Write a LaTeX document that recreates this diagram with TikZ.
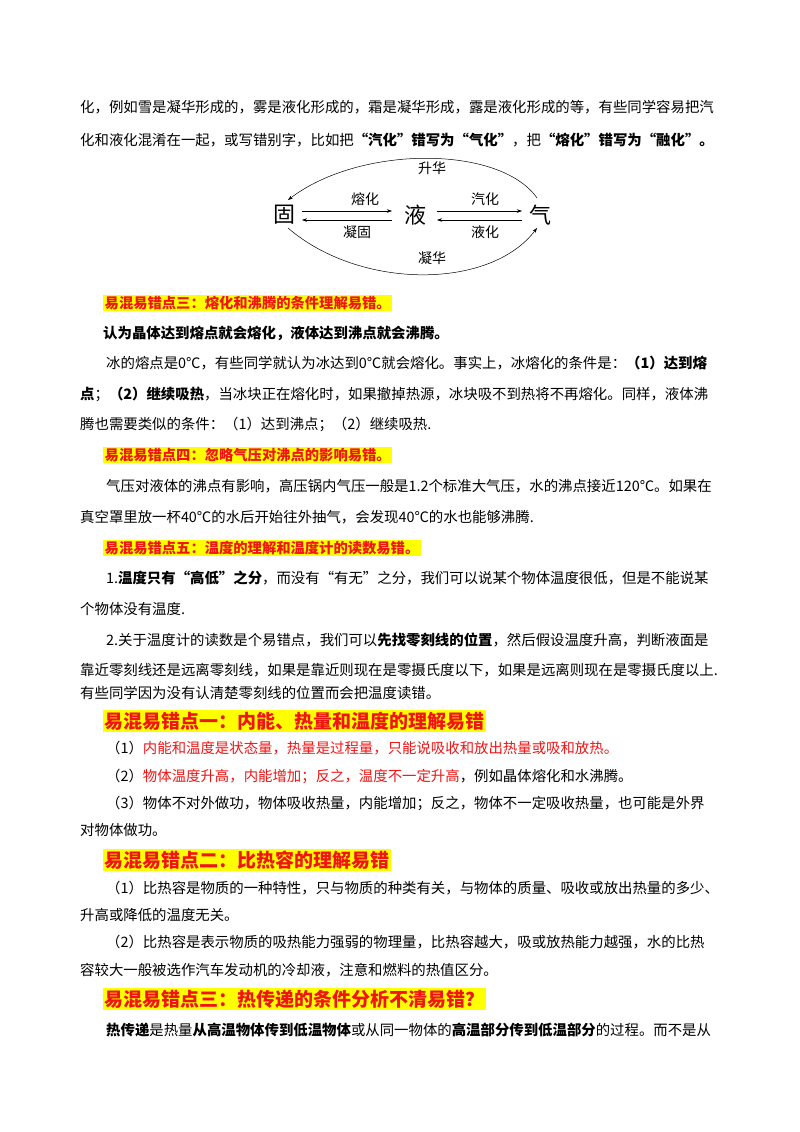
\documentclass[tikz,border=0pt]{standalone}
\usepackage{fontspec}
\setmainfont{Noto Sans CJK SC}
\usetikzlibrary{arrows.meta}
\definecolor{hl}{RGB}{255,255,0}
\definecolor{rd}{RGB}{240,20,20}
\newcommand{\B}[1]{\textbf{#1}}
\newcommand{\R}[1]{\textcolor{rd}{#1}}
\begin{document}
\begin{tikzpicture}[x=1pt,y=-1pt,
  ln/.style={anchor=west,inner sep=0pt,font=\fontsize{14.4}{16}\selectfont},
  hs/.style={anchor=west,inner sep=1.5pt,fill=hl,text=rd,font=\fontsize{14.3}{16}\bfseries\selectfont},
  hb/.style={anchor=west,inner sep=1.5pt,fill=hl,text=rd,font=\fontsize{19}{21}\bfseries\selectfont},
  st/.style={inner sep=0pt,font=\fontsize{22}{24}\selectfont},
  lb/.style={inner sep=0pt,font=\fontsize{14}{16}\selectfont},
  ar/.style={-{Stealth[length=5pt,width=3.5pt]},line width=0.5pt}]
\useasboundingbox (0,0) rectangle (800,1132);
\node[ln] (l1) at (80,107) {化，例如雪是凝华形成的，雾是液化形成的，霜是凝华形成，露是液化形成的等，有些同学容易把汽};
\node[ln] (l2) at (80,140) {化和液化混淆在一起，或写错别字，比如把\B{“汽化”错写为“气化”}，把\B{“熔化”错写为“融化"。}};
% diagram
\node[st] (g) at (284,215) {固};
\node[st] (y) at (415,215) {液};
\node[st] (q) at (540,215) {气};
\coordinate (a1) at (302,211); \coordinate (a2) at (392,211);
\coordinate (a3) at (392,220); \coordinate (a4) at (302,220);
\coordinate (b1) at (437,211); \coordinate (b2) at (522,211);
\coordinate (b3) at (522,220); \coordinate (b4) at (437,220);
\draw[ar] (a1) -- (a2); \draw[ar] (a3) -- (a4);
\draw[ar] (b1) -- (b2); \draw[ar] (b3) -- (b4);
\coordinate (c1) at (537,198); \coordinate (c2) at (288,200);
\coordinate (d1) at (288,228); \coordinate (d2) at (537,228);
\draw[ar] (c1) .. controls (500,145) and (360,145) .. (c2);
\draw[ar] (d1) .. controls (360,290) and (490,290) .. (d2);
\node[lb] (t1) at (365,199) {熔化};
\node[lb] (t2) at (357,232) {凝固};
\node[lb] (t3) at (485,199) {汽化};
\node[lb] (t4) at (485,232) {液化};
\node[lb] (t5) at (432,168) {升华};
\node[lb] (t6) at (432,258) {凝华};
% section
\node[hs] (h3) at (103,303) {易混易错点三：熔化和沸腾的条件理解易错。};
\node[ln] (l3) at (103,333) {\B{认为晶体达到熔点就会熔化，液体达到沸点就会沸腾。}};
\node[ln] (l4) at (106,363) {冰的熔点是0℃，有些同学就认为冰达到0℃就会熔化。事实上，冰熔化的条件是：\B{（1）达到熔}};
\node[ln] (l5) at (80,394) {\B{点}；\B{（2）继续吸热}，当冰块正在熔化时，如果撤掉热源，冰块吸不到热将不再熔化。同样，液体沸};
\node[ln] (l6) at (80,424) {腾也需要类似的条件：（1）达到沸点；（2）继续吸热.};
\node[hs] (h4) at (103,455) {易混易错点四：忽略气压对沸点的影响易错。};
\node[ln] (l7) at (106,486) {气压对液体的沸点有影响，高压锅内气压一般是1.2个标准大气压，水的沸点接近120℃。如果在};
\node[ln] (l8) at (80,517) {真空罩里放一杯40℃的水后开始往外抽气，会发现40℃的水也能够沸腾.};
\node[hs] (h5) at (103,548) {易混易错点五：温度的理解和温度计的读数易错。};
\node[ln] (l9) at (106,578) {1.\B{温度只有“高低”之分}，而没有“有无”之分，我们可以说某个物体温度很低，但是不能说某};
\node[ln] (l10) at (80,609) {个物体没有温度.};
\node[ln] (l11) at (106,640) {2.关于温度计的读数是个易错点，我们可以\B{先找零刻线的位置}，然后假设温度升高，判断液面是};
\node[ln] (l12) at (80,670) {靠近零刻线还是远离零刻线，如果是靠近则现在是零摄氏度以下，如果是远离则现在是零摄氏度以上.};
\node[ln] (l13) at (80,693) {有些同学因为没有认清楚零刻线的位置而会把温度读错。};
\node[hb] (h6) at (103,721) {易混易错点一：内能、热量和温度的理解易错};
\node[ln] (l14) at (106,748) {（1）\R{内能和温度是状态量，热量是过程量，只能说吸收和放出热量或吸和放热。}};
\node[ln] (l15) at (106,776) {（2）\R{物体温度升高，内能增加；反之，温度不一定升高}，例如晶体熔化和水沸腾。};
\node[ln] (l16) at (106,803) {（3）物体不对外做功，物体吸收热量，内能增加；反之，物体不一定吸收热量，也可能是外界};
\node[ln] (l17) at (80,830) {对物体做功。};
\node[hb] (h7) at (103,860) {易混易错点二：比热容的理解易错};
\node[ln] (l18) at (106,888) {（1）比热容是物质的一种特性，只与物质的种类有关，与物体的质量、吸收或放出热量的多少、};
\node[ln] (l19) at (80,915) {升高或降低的温度无关。};
\node[ln] (l20) at (106,942) {（2）比热容是表示物质的吸热能力强弱的物理量，比热容越大，吸或放热能力越强，水的比热};
\node[ln] (l21) at (80,970) {容较大一般被选作汽车发动机的冷却液，注意和燃料的热值区分。};
\node[hb] (h8) at (103,999) {易混易错点三：热传递的条件分析不清易错？};
\node[ln] (l22) at (106,1030) {\B{热传递}是热量\B{从高温物体传到低温物体}或从同一物体的\B{高温部分传到低温部分}的过程。而不是从};
\end{tikzpicture}
\end{document}
